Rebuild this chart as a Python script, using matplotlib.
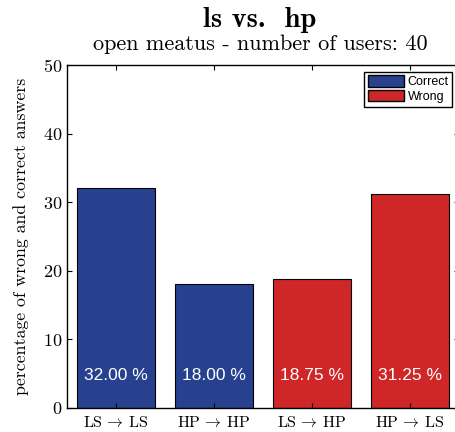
import matplotlib
matplotlib.use("Agg")
import matplotlib.pyplot as plt
from matplotlib.patches import Patch

plt.rcParams["font.family"] = "serif"
plt.rcParams["font.serif"] = ["cmr10"]
plt.rcParams["mathtext.fontset"] = "cm"
plt.rcParams["axes.formatter.use_mathtext"] = True

categories = [r"$\mathrm{LS}\,\rightarrow\,\mathrm{LS}$", r"$\mathrm{HP}\,\rightarrow\,\mathrm{HP}$",
              r"$\mathrm{LS}\,\rightarrow\,\mathrm{HP}$", r"$\mathrm{HP}\,\rightarrow\,\mathrm{LS}$"]
values = [32.00, 18.00, 18.75, 31.25]
kinds = ["Correct", "Correct", "Wrong", "Wrong"]
colors = {"Correct": "#27418E", "Wrong": "#CF2628"}

fig = plt.figure(figsize=(4.55, 4.32), dpi=100)
ax = fig.add_axes([0.147, 0.0556, 0.8615, 0.794])

x = list(range(len(values)))
ax.bar(x, values, width=0.8, color=[colors[k] for k in kinds], edgecolor="black", linewidth=0.8)
for xi, v in zip(x, values):
    ax.text(xi, 4.8, "%.2f %%" % v, ha="center", va="center", color="white",
            fontsize=12.5, family="Liberation Sans")

ax.set_xlim(-0.5, 3.5)
ax.set_ylim(0, 50)
ax.set_yticks([0, 10, 20, 30, 40, 50])
ax.set_xticks(x)
ax.set_xticklabels(categories)
ax.tick_params(axis="both", direction="in", top=True, right=True, labelsize=13)
ax.tick_params(axis="x", pad=5, labelsize=11.5)
for s in ax.spines.values():
    s.set_linewidth(1.0)
ax.set_ylabel("percentage of wrong and correct answers", fontsize=12.8, labelpad=10)

fig.text(0.571, 0.953, "ls vs.  hp", ha="center", va="center",
         fontsize=20.5, family="cmb10")
fig.text(0.573, 0.898, "open meatus - number of users: 40", ha="center",
         va="center", fontsize=16)

handles = [Patch(facecolor=colors["Correct"], edgecolor="black", label="Correct"),
           Patch(facecolor=colors["Wrong"], edgecolor="black", label="Wrong")]
leg = ax.legend(handles=handles, loc="upper right", bbox_to_anchor=(0.99, 0.988),
                prop={"family": "Liberation Sans", "size": 9}, fancybox=False,
                edgecolor="black", framealpha=1, handlelength=2.9, handleheight=1.0,
                borderpad=0.3, labelspacing=0.15, handletextpad=0.25, borderaxespad=0.2)
leg.get_frame().set_linewidth(1.0)

fig.savefig("out.png", dpi=100)
